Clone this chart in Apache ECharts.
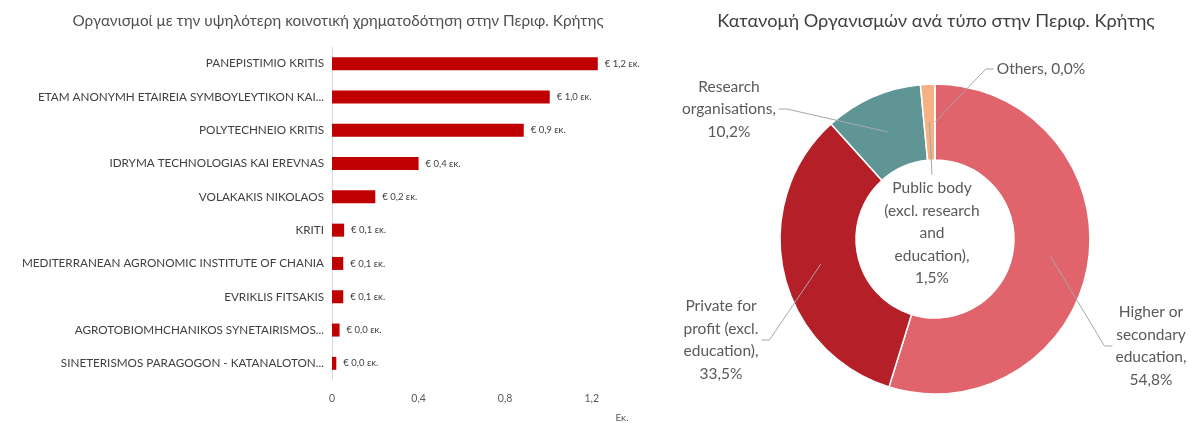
<!DOCTYPE html>
<html>
<head>
<meta charset="utf-8">
<script src="https://cdn.jsdelivr.net/npm/echarts@6/dist/echarts.min.js"></script>
<style>
  html, body { margin: 0; padding: 0; background: #fff; }
  #chart { width: 1191px; height: 423px; }
</style>
</head>
<body>
<div id="chart"></div>
<script>
// bar chart data
const organisations = [
  'PANEPISTIMIO KRITIS',
  'ETAM ANONYMH ETAIREIA SYMBOYLEYTIKON KAI...',
  'POLYTECHNEIO KRITIS',
  'IDRYMA TECHNOLOGIAS KAI EREVNAS',
  'VOLAKAKIS NIKOLAOS',
  'KRITI',
  'MEDITERRANEAN AGRONOMIC INSTITUTE OF CHANIA',
  'EVRIKLIS FITSAKIS',
  'AGROTOBIOMHCHANIKOS SYNETAIRISMOS...',
  'SINETERISMOS PARAGOGON - KATANALOTON...'
];
const funding = [1.228, 1.006, 0.886, 0.40, 0.20, 0.056, 0.052, 0.052, 0.035, 0.02];
const valueTicks = [0, 0.4, 0.8, 1.2];

// donut data
const orgTypes = [
  'Higher or\nsecondary\neducation',
  'Private for\nprofit (excl.\neducation)',
  'Research\norganisations',
  'Public body\n(excl. research\nand\neducation)',
  'Others'
];
const orgShares = [54.8, 33.5, 10.2, 1.5, 0.0];
const orgColors = ['#e1636b', '#b51f27', '#5f9595', '#f4b183', '#f8cbad'];

// donut geometry and label spots
const pieCenter = [935, 239];
const pieRadius = [79, 155];
const labelSpots = [[1151, 346], [721, 340], [729, 109], [932, 233], [1041, 69]];

const FONT = 'Lato, "Liberation Sans", sans-serif';
const comma = (v, d) => v.toFixed(d).replace('.', ',');

const total = orgShares.reduce((a, b) => a + b, 0);
const midAngles = [];
let acc = 0;
orgShares.forEach(v => {
  midAngles.push((acc + v / 2) / total * Math.PI * 2);
  acc += v;
});

const chart = echarts.init(document.getElementById('chart'));

// leader lines start inside the ring, Excel style
function placeLabel(params) {
  const i = params.dataIndex;
  const spot = labelSpots[i];
  const w = params.labelRect.width;
  const h = params.labelRect.height;
  const rMid = (pieRadius[0] + pieRadius[1]) / 2;
  const a = midAngles[i];
  const anchor = [pieCenter[0] + rMid * Math.sin(a), pieCenter[1] - rMid * Math.cos(a)];
  let edge, knee;
  if (Math.abs(anchor[0] - spot[0]) < 20) {
    edge = [spot[0], spot[1] - h / 2 - 2];
    knee = edge;
  } else if (anchor[0] > spot[0]) {
    edge = [spot[0] + w / 2 + 3, spot[1]];
    knee = [edge[0] + 8, edge[1]];
  } else {
    edge = [spot[0] - w / 2 - 3, spot[1]];
    knee = [edge[0] - 8, edge[1]];
  }
  return {
    x: spot[0], y: spot[1],
    align: 'center', verticalAlign: 'middle',
    labelLinePoints: [anchor, knee, edge]
  };
}

const pieData = orgTypes.map((n, i) => ({ name: n, value: orgShares[i], itemStyle: { color: orgColors[i] } }));

const option = {
  animation: false,
  textStyle: { fontFamily: FONT },
  title: [
    {
      text: 'Οργανισμοί με την υψηλότερη κοινοτική χρηματοδότηση στην Περιφ. Κρήτης',
      left: 338, top: 14, padding: 0, textAlign: 'center',
      textStyle: { fontFamily: FONT, fontSize: 15.3, fontWeight: 'normal', color: '#505050' }
    },
    {
      text: 'Κατανομή Οργανισμών ανά τύπο στην Περιφ. Κρήτης',
      left: 936, top: 12, padding: 0, textAlign: 'center',
      textStyle: { fontFamily: FONT, fontSize: 18.2, fontWeight: 'normal', color: '#404040' }
    }
  ],
  grid: { left: 332, width: 303, top: 47, height: 333, containLabel: false },
  xAxis: {
    type: 'value',
    min: 0, max: 1.4, interval: 0.4,
    name: 'Εκ.',
    nameLocation: 'end',
    nameGap: -13,
    nameTextStyle: { color: '#595959', fontSize: 10, align: 'center', verticalAlign: 'top', padding: [33, 0, 0, 0] },
    axisLine: { show: false },
    axisTick: { show: false },
    splitLine: { show: false },
    axisLabel: {
      color: '#595959', fontSize: 10.5, margin: 13,
      showMaxLabel: false,
      formatter: v => valueTicks.includes(+v.toFixed(1)) ? (v === 0 ? '0' : comma(v, 1)) : ''
    }
  },
  yAxis: {
    type: 'category',
    inverse: true,
    data: organisations,
    axisLine: { show: true, lineStyle: { color: '#d9d9d9', width: 1 } },
    axisTick: { show: false },
    axisLabel: { color: '#404040', fontSize: 11.7, margin: 8 }
  },
  series: [
    {
      type: 'bar',
      data: funding,
      barWidth: 13,
      itemStyle: { color: '#c00000' },
      label: {
        show: true,
        position: 'right',
        distance: 7,
        color: '#404040',
        fontSize: 9.5,
        formatter: p => '€ ' + comma(p.value, 1) + ' εκ.'
      }
    },
    {
      type: 'pie',
      center: pieCenter,
      radius: pieRadius,
      startAngle: 90,
      clockwise: true,
      itemStyle: { borderColor: '#fff', borderWidth: 1.5 },
      label: { show: false },
      labelLine: { show: false },
      data: pieData
    },
    {
      // transparent copy on top, only for labels and leader lines
      type: 'pie',
      z: 3,
      silent: true,
      center: pieCenter,
      radius: pieRadius,
      startAngle: 90,
      clockwise: true,
      avoidLabelOverlap: false,
      itemStyle: { color: 'rgba(0,0,0,0)', borderWidth: 0 },
      label: {
        show: true,
        position: 'outside',
        color: '#595959',
        fontSize: 15.5,
        lineHeight: 22.5,
        align: 'center',
        formatter: p => p.name + (p.name.indexOf('\n') >= 0 ? ',\n' : ', ') + comma(p.value, 1) + '%'
      },
      labelLine: { show: true, lineStyle: { color: '#a6a6a6', width: 1 } },
      labelLayout: placeLabel,
      data: orgTypes.map((n, i) => ({ name: n, value: orgShares[i] }))
    }
  ]
};

chart.setOption(option);
window.addEventListener('resize', () => chart.resize());
</script>
</body>
</html>
